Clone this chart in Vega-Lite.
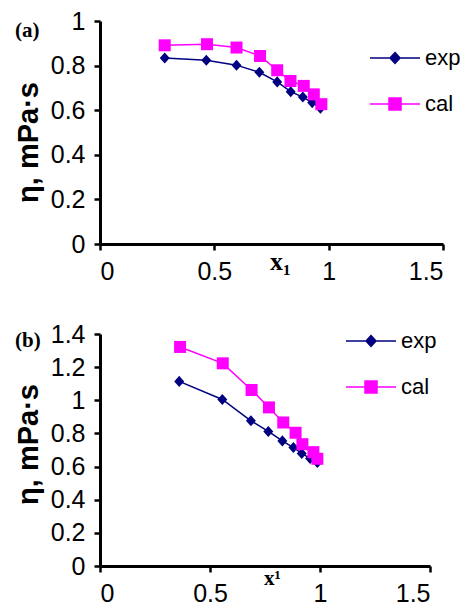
{
  "$schema": "https://vega.github.io/schema/vega-lite/v6.json",
  "background": "white",
  "padding": {"left": 13, "top": 9, "right": 5, "bottom": 0},
  "datasets": {
    "a": [
      {"series": "exp", "x": 0.283, "eta": 0.834},
      {"series": "exp", "x": 0.465, "eta": 0.824},
      {"series": "exp", "x": 0.597, "eta": 0.802},
      {"series": "exp", "x": 0.697, "eta": 0.770},
      {"series": "exp", "x": 0.775, "eta": 0.727},
      {"series": "exp", "x": 0.834, "eta": 0.683},
      {"series": "exp", "x": 0.887, "eta": 0.659},
      {"series": "exp", "x": 0.928, "eta": 0.634},
      {"series": "exp", "x": 0.964, "eta": 0.609},
      {"series": "cal", "x": 0.283, "eta": 0.891},
      {"series": "cal", "x": 0.468, "eta": 0.896},
      {"series": "cal", "x": 0.597, "eta": 0.881},
      {"series": "cal", "x": 0.700, "eta": 0.843},
      {"series": "cal", "x": 0.775, "eta": 0.779},
      {"series": "cal", "x": 0.833, "eta": 0.731},
      {"series": "cal", "x": 0.891, "eta": 0.709},
      {"series": "cal", "x": 0.935, "eta": 0.671},
      {"series": "cal", "x": 0.968, "eta": 0.627}
    ],
    "b": [
      {"series": "exp", "x": 0.360, "eta": 1.114},
      {"series": "exp", "x": 0.556, "eta": 1.005},
      {"series": "exp", "x": 0.686, "eta": 0.876},
      {"series": "exp", "x": 0.765, "eta": 0.812},
      {"series": "exp", "x": 0.829, "eta": 0.755},
      {"series": "exp", "x": 0.879, "eta": 0.715},
      {"series": "exp", "x": 0.917, "eta": 0.679},
      {"series": "exp", "x": 0.955, "eta": 0.649},
      {"series": "exp", "x": 0.988, "eta": 0.625},
      {"series": "cal", "x": 0.364, "eta": 1.322},
      {"series": "cal", "x": 0.558, "eta": 1.223},
      {"series": "cal", "x": 0.689, "eta": 1.062},
      {"series": "cal", "x": 0.768, "eta": 0.957},
      {"series": "cal", "x": 0.833, "eta": 0.866},
      {"series": "cal", "x": 0.889, "eta": 0.804},
      {"series": "cal", "x": 0.920, "eta": 0.735},
      {"series": "cal", "x": 0.970, "eta": 0.687},
      {"series": "cal", "x": 0.988, "eta": 0.647}
    ]
  },
  "config": {
    "view": {"stroke": null},
    "axis": {
      "domainColor": "black", "domainWidth": 3, "tickColor": "black", "tickWidth": 2.5, "tickSize": 6,
      "grid": false, "labelFont": "Liberation Sans", "labelFontSize": 25, "labelColor": "black", "labelPadding": 9,
      "titleColor": "black"
    },
    "legend": {
      "title": null, "padding": 0, "symbolSize": 100, "labelFont": "Liberation Sans", "labelFontSize": 22,
      "labelColor": "black", "labelOffset": 19, "rowPadding": 24, "symbolStrokeWidth": 1.5
    }
  },
  "spacing": 38,
  "resolve": {
    "scale": {"color": "independent", "x": "independent", "y": "independent"},
    "legend": {"color": "independent"}
  },
  "vconcat": [
    {
      "width": 343,
      "height": 223,
      "title": {"text": "(a)", "anchor": "start", "frame": "group", "font": "Liberation Serif", "fontSize": 21, "fontWeight": "bold", "color": "black", "dx": -85, "dy": 32, "offset": 0},
      "data": {"name": "a"},
      "encoding": {
        "x": {"field": "x", "type": "quantitative", "scale": {"domain": [0, 1.5]},
          "axis": {"values": [0, 0.5, 1, 1.5], "format": "~g", "title": "x₁", "titleX": 180, "titleY": 17,
            "titleAlign": "center", "titleBaseline": "middle",
            "titleFont": "Liberation Serif", "titleFontSize": 26, "titleFontWeight": "bold"}},
        "y": {"field": "eta", "type": "quantitative", "scale": {"domain": [0, 1]},
          "axis": {"values": [0, 0.2, 0.4, 0.6, 0.8, 1], "format": "~g", "title": "η, mPa·s", "titleX": -72, "titleY": 121,
            "titleAlign": "center", "titleBaseline": "middle", "titleFont": "Liberation Sans", "titleFontSize": 29, "titleFontWeight": "bold"}},
        "color": {"field": "series", "type": "nominal",
          "scale": {"domain": ["exp", "cal"], "range": ["#000080", "#ff00ff"]},
          "legend": {"orient": "none", "legendX": 284, "legendY": 26,
            "encode": {"symbols": {"update": {
              "shape": {"signal": "datum.value === 'exp' ? 'M-5,0L5,0M0,-1.1L1,0L0,1.1L-1,0Z' : 'M-5,0L5,0M-1.2,-1.2L1.2,-1.2L1.2,1.2L-1.2,1.2Z'"},
              "strokeWidth": {"value": 1.5},
              "opacity": {"value": 1}
            }}}}}
      },
      "layer": [
        {"mark": {"type": "line", "strokeWidth": 1.5}},
        {"mark": {"type": "point", "filled": true, "opacity": 1, "size": 144},
          "encoding": {"shape": {"condition": {"test": "datum.series === 'exp'", "value": "M0,-0.92L0.83,0L0,0.92L-0.83,0Z"}, "value": "square"}}}
      ]
    },
    {
      "width": 330,
      "height": 232,
      "title": {"text": "(b)", "anchor": "start", "frame": "group", "font": "Liberation Serif", "fontSize": 21, "fontWeight": "bold", "color": "black", "dx": -85, "dy": 29, "offset": 0},
      "data": {"name": "b"},
      "encoding": {
        "x": {"field": "x", "type": "quantitative", "scale": {"domain": [0, 1.5]},
          "axis": {"values": [0, 0.5, 1, 1.5], "format": "~g", "title": "x¹", "titleX": 172, "titleY": 12,
            "titleAlign": "center", "titleBaseline": "middle",
            "titleFont": "Liberation Serif", "titleFontSize": 21, "titleFontWeight": "bold"}},
        "y": {"field": "eta", "type": "quantitative", "scale": {"domain": [0, 1.4]},
          "axis": {"values": [0, 0.2, 0.4, 0.6, 0.8, 1, 1.2, 1.4], "format": "~g", "title": "η, mPa·s", "titleX": -72, "titleY": 110,
            "titleAlign": "center", "titleBaseline": "middle", "titleFont": "Liberation Sans", "titleFontSize": 29, "titleFontWeight": "bold"}},
        "color": {"field": "series", "type": "nominal",
          "scale": {"domain": ["exp", "cal"], "range": ["#000080", "#ff00ff"]},
          "legend": {"orient": "none", "legendX": 260, "legendY": -4,
            "encode": {"symbols": {"update": {
              "shape": {"signal": "datum.value === 'exp' ? 'M-5,0L5,0M0,-1.1L1,0L0,1.1L-1,0Z' : 'M-5,0L5,0M-1.2,-1.2L1.2,-1.2L1.2,1.2L-1.2,1.2Z'"},
              "strokeWidth": {"value": 1.5},
              "opacity": {"value": 1}
            }}}}}
      },
      "layer": [
        {"mark": {"type": "line", "strokeWidth": 1.5}},
        {"mark": {"type": "point", "filled": true, "opacity": 1, "size": 144},
          "encoding": {"shape": {"condition": {"test": "datum.series === 'exp'", "value": "M0,-0.92L0.83,0L0,0.92L-0.83,0Z"}, "value": "square"}}}
      ]
    }
  ]
}
